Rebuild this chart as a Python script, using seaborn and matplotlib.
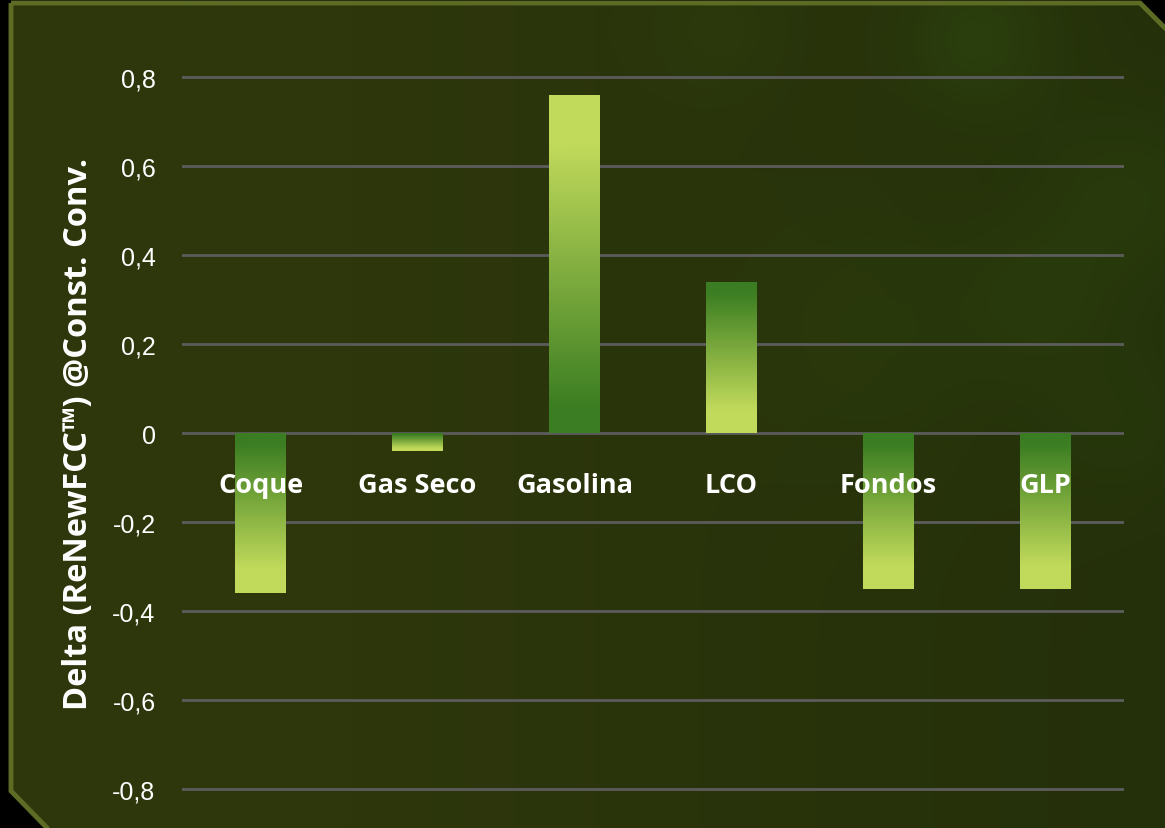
import numpy as np
import matplotlib
matplotlib.use("Agg")
import matplotlib.pyplot as plt
from matplotlib.colors import LinearSegmentedColormap, to_rgb
from matplotlib.patches import Polygon
import pandas as pd
import seaborn as sns

# ---- data ----
categories = ["Coque", "Gas Seco", "Gasolina", "LCO", "Fondos", "GLP"]
delta = [-0.36, -0.04, 0.76, 0.34, -0.35, -0.35]
ytick_values = [-0.8, -0.6, -0.4, -0.2, 0.0, 0.2, 0.4, 0.6, 0.8]
ytick_labels = ["-0,8", "-0,6", "-0,4", "-0,2", "0", "0,2", "0,4", "0,6", "0,8"]
y_title = "Delta (ReNewFCC™) @Const. Conv."

# ---- style ----
W, H = 1165, 829
DARK = "#3b7d22"
LIGHT = "#c1da5b"
dark_on_top = [True, True, False, True, True, True]

sns.set_theme(style="white")
plt.rcParams["font.family"] = ["Liberation Sans", "DejaVu Sans"]

fig = plt.figure(figsize=(W / 100, H / 100), dpi=100, facecolor="black")

# ---- panel background (pixel coordinates, y downward) ----
bg = fig.add_axes([0, 0, 1, 1], zorder=0)
bg.set_xlim(0, W)
bg.set_ylim(H, 0)
bg.axis("off")
yy, xx = np.mgrid[0:H, 0:W]
base = np.array(to_rgb("#2e370c"))
right = np.array(to_rgb("#24300a"))
t = np.clip((xx - 350) / 815.0, 0, 1)[..., None]
img = base * (1 - t) + right * t
glow = np.array(to_rgb("#2f4d10"))
for cx, cy, r, s in [(980, 40, 55, 0.45), (1130, 200, 65, 0.35),
                     (880, 330, 90, 0.22), (1040, 300, 55, 0.28),
                     (720, 30, 45, 0.2), (1120, 420, 60, 0.22)]:
    g = np.exp(-((xx - cx) ** 2 + (yy - cy) ** 2) / (2.0 * r * r))[..., None]
    img = img * (1 - s * g) + glow * s * g
frame = Polygon([(11, 4), (1140, 4), (1168, 32), (1168, 832), (50, 832), (11, 792)],
                closed=True, facecolor="none", edgecolor="#5d6c24", lw=3.5, zorder=2)
im = bg.imshow(img, extent=(0, W, H, 0), aspect="auto", zorder=1)
bg.add_patch(frame)
im.set_clip_path(frame)

# ---- chart axes ----
pad = 0.02
px_per_unit = 445.0
top_px = 78 - pad * px_per_unit
height_px = (1.6 + 2 * pad) * px_per_unit
ax = fig.add_axes([182 / W, (H - top_px - height_px) / H, 942 / W, height_px / H], zorder=3)
ax.patch.set_alpha(0)

df = pd.DataFrame({"Producto": categories, "Delta": delta})
sns.barplot(data=df, x="Producto", y="Delta", ax=ax, width=0.32,
            color=DARK, saturation=1, zorder=3)

cmap = LinearSegmentedColormap.from_list(
    "bar_fade", [(0.0, LIGHT), (0.15, LIGHT), (0.93, DARK), (1.0, DARK)])
ramp = np.linspace(0, 1, 256).reshape(-1, 1)
for patch, flip in zip(ax.patches, dark_on_top):
    x0 = patch.get_x()
    x1 = x0 + patch.get_width()
    y_a = patch.get_y()
    y_b = y_a + patch.get_height()
    lo, hi = min(y_a, y_b), max(y_a, y_b)
    data = ramp if flip else ramp[::-1]
    gi = ax.imshow(data, cmap=cmap, vmin=0, vmax=1, origin="lower",
                   extent=(x0, x1, lo, hi), aspect="auto", zorder=3,
                   interpolation="bilinear")
    gi.set_clip_path(patch)
    patch.set_facecolor("none")
    patch.set_edgecolor("none")

ax.set_xlim(-0.5, len(categories) - 0.5)
ax.set_ylim(-0.8 - pad, 0.8 + pad)
ax.set_yticks(ytick_values)
ax.set_yticklabels(ytick_labels, color="white", fontsize=18)
ax.tick_params(axis="y", length=0, pad=19)
ax.set_xticks([])
ax.set_xlabel("")
ax.set_axisbelow(True)
ax.yaxis.grid(True, color="#5c5c5c", lw=2)
for sp in ax.spines.values():
    sp.set_visible(False)

# category names placed just under the zero line
for i, name in enumerate(categories):
    ax.text(i, -0.117, name, ha="center", va="center", color="white",
            fontsize=19.5, fontweight="bold", family=["Open Sans", "DejaVu Sans"],
            zorder=6)

ax.set_ylabel(y_title, color="white", fontsize=23.5, fontweight="bold",
              family=["Open Sans", "DejaVu Sans"])
ax.yaxis.set_label_coords((95 - 182) / 942, 0.5)

fig.savefig("out.png", dpi=100, facecolor=fig.get_facecolor())
